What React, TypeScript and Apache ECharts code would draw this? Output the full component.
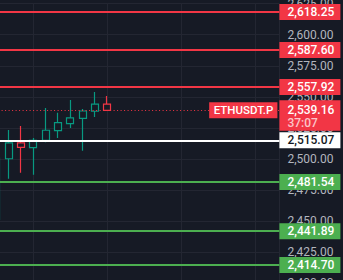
import { useEffect, useRef } from "react";
import * as echarts from "echarts";

// ---- data ----
const candleSlots = [-3, -2, -1, 0, 1, 2, 3, 4, 5, 6];
const opens = [2451.5, 2500.2, 2512.9, 2509.1, 2515.0, 2522.8, 2528.4, 2532.7, 2538.4, 2544.2];
const closes = [2500.8, 2512.9, 2509.4, 2515.0, 2523.1, 2529.2, 2533.0, 2538.6, 2544.2, 2539.16];
const lows = [2444.0, 2484.2, 2489.0, 2487.4, 2513.4, 2516.9, 2524.9, 2506.7, 2533.8, 2539.16];
const highs = [2504.0, 2523.3, 2526.5, 2516.9, 2541.0, 2537.2, 2547.5, 2540.2, 2553.9, 2550.7];

const resistanceLevels = [2618.25, 2587.6, 2557.92];
const supportLevels = [2481.54, 2441.89, 2414.7];
const sessionOpen = 2515.07;
const lastPrice = 2539.16;
const symbolName = "ETHUSDT.P";
const countdown = "37:07";

const yTickMin = 2400;
const yTickMax = 2625;
const yTickStep = 25;
const xSlotMin = -6;
const xSlotMax = 20;
const xSlotStep = 6;

// ---- styles ----
const BG = "#161a25";
const GRID = "#232632";
const UP = "#089981";
const DOWN = "#f23645";
const RED = "#f23645";
const GREEN = "#4caf50";
const FONT = "Roboto, 'Noto Sans', sans-serif";

const fmt = (v: number) =>
  v.toLocaleString("en-US", { minimumFractionDigits: 2, maximumFractionDigits: 2 });

const boxLabel = (text: string, bg: string, fg: string) => ({
  show: true,
  position: "end",
  distance: 0,
  align: "left",
  verticalAlign: "middle",
  formatter: text,
  backgroundColor: bg,
  color: fg,
  fontFamily: FONT,
  fontSize: 12,
  fontWeight: 500,
  lineHeight: 14,
  width: 53,
  padding: [1, 0, 1, 8],
});

export default function App() {
  const ref = useRef<HTMLDivElement>(null);

  useEffect(() => {
    if (!ref.current) return;
    const chart = echarts.init(ref.current, null, { renderer: "svg" });

    const candleData = candleSlots.map((s, i) => [s, opens[i], closes[i], lows[i], highs[i]]);

    const levelLine = (v: number, color: string, fg: string) => ({
      yAxis: v,
      lineStyle: { color, width: 2, type: "solid" },
      label: boxLabel(fmt(v), color, fg),
    });

    const markData: any[] = [
      ...resistanceLevels.map((v) => levelLine(v, RED, "#ffffff")),
      ...supportLevels.map((v) => levelLine(v, GREEN, "#ffffff")),
      levelLine(sessionOpen, "#ffffff", "#131722"),
      {
        yAxis: lastPrice,
        lineStyle: { color: "rgba(0,0,0,0)", width: 0 },
        label: {
          show: true,
          position: "end",
          distance: 0,
          align: "right",
          verticalAlign: "middle",
          offset: [-2, 0],
          opacity: 1,
          formatter: symbolName,
          backgroundColor: RED,
          color: "#ffffff",
          fontFamily: FONT,
          fontSize: 11.5,
          fontWeight: 500,
          lineHeight: 13,
          padding: [1.5, 4, 1.5, 4.5],
        },
      },
      {
        yAxis: lastPrice,
        lineStyle: { color: RED, width: 1, type: [1, 2.5] },
        label: {
          show: true,
          position: "end",
          distance: 0,
          align: "left",
          verticalAlign: "top",
          offset: [0, -10],
          formatter: `{p|${fmt(lastPrice)}}\n{t|${countdown}}`,
          backgroundColor: RED,
          width: 53,
          padding: [2.5, 0, 2, 8],
          rich: {
            p: { color: "#ffffff", fontFamily: FONT, fontSize: 12, fontWeight: 500, lineHeight: 14 },
            t: { color: "rgba(255,255,255,0.72)", fontFamily: FONT, fontSize: 12, fontWeight: 500, lineHeight: 12 },
          },
        },
      },
    ];

    chart.setOption({
      animation: false,
      backgroundColor: BG,
      grid: {
        left: -40.4,
        right: 63.6,
        top: 3.6,
        height: 279.7,
        containLabel: false,
        outerBoundsMode: "none",
      },
      xAxis: {
        type: "value",
        min: xSlotMin,
        max: xSlotMax,
        interval: xSlotStep,
        axisLine: { show: false },
        axisTick: { show: false },
        axisLabel: { show: false },
        splitLine: { show: true, lineStyle: { color: GRID, width: 1 } },
      },
      yAxis: {
        type: "value",
        position: "right",
        min: yTickMin,
        max: yTickMax,
        interval: yTickStep,
        axisLine: { show: false },
        axisTick: { show: false },
        splitLine: { show: true, lineStyle: { color: GRID, width: 1 } },
        axisLabel: {
          show: true,
          margin: 8,
          color: "#b2b5be",
          fontFamily: FONT,
          fontSize: 12,
          formatter: (v: number) => fmt(v),
        },
      },
      series: [
        {
          type: "candlestick",
          data: candleData,
          encode: { x: 0, y: [1, 2, 3, 4] },
          barWidth: 7.4,
          itemStyle: {
            color: BG,
            color0: BG,
            borderColor: UP,
            borderColor0: DOWN,
            borderWidth: 1.2,
          },
          markLine: {
            silent: true,
            symbol: ["none", "none"],
            animation: false,
            data: markData,
          },
        },
      ],
    });

    return () => chart.dispose();
  }, []);

  return (
    <div
      ref={ref}
      style={{ position: "fixed", left: 0, top: 0, width: 343, height: 280, background: BG }}
    />
  );
}
